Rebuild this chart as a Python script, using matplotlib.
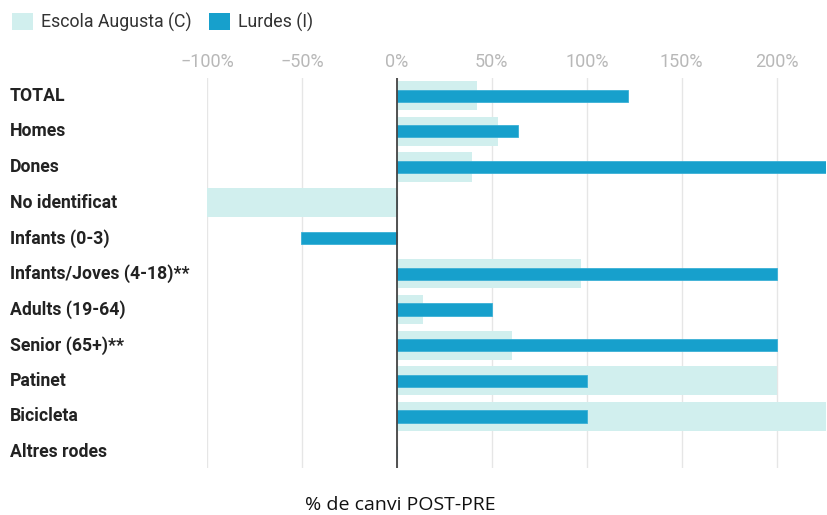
import numpy as np
import matplotlib.pyplot as plt
from matplotlib.patches import Patch
from matplotlib.transforms import blended_transform_factory

categories = ["TOTAL", "Homes", "Dones", "No identificat", "Infants (0-3)",
              "Infants/Joves (4-18)**", "Adults (19-64)", "Senior (65+)**",
              "Patinet", "Bicicleta", "Altres rodes"]
escola = [42, 53, 39.5, -100, 0, 97, 13.5, 60.5, 200, 226, 0]
lurdes = [121.5, 64, 226, 0, -50.5, 200, 50, 200, 100, 100, 0]
ticks = [-100, -50, 0, 50, 100, 150, 200]
tick_labels = ["\u2212100%", "\u221250%", "0%", "50%", "100%", "150%", "200%"]

c_escola = "#d1efee"
c_lurdes = "#17a0cc"

plt.rcParams["font.family"] = ["Roboto", "DejaVu Sans"]

fig = plt.figure(figsize=(8.28, 5.15), dpi=100)
ax = fig.add_axes([0.25, 0.091, 0.7476, 0.758])

y = np.arange(len(categories))
ax.barh(y, escola, height=0.82, color=c_escola, zorder=2)
ax.barh(y, lurdes, height=0.34, color=c_lurdes, edgecolor="#3bb0d6",
        linewidth=0.6, zorder=3)

ax.set_xlim(-100, 226)
ax.set_ylim(10.45, -0.5)
ax.axvline(0, color="#444444", lw=1.3, zorder=4)

ax.set_xticks(ticks)
ax.set_xticklabels(tick_labels)
ax.xaxis.tick_top()
ax.tick_params(axis="x", length=0, pad=5, labelsize=13, labelcolor="#b8b8b8")
ax.grid(axis="x", color="#e6e6e6", lw=1, zorder=0)
ax.set_yticks([])
for s in ax.spines.values():
    s.set_visible(False)

trans = blended_transform_factory(fig.transFigure, ax.transData)
for yi, name in zip(y, categories):
    ax.text(10 / 828, yi, name, transform=trans, ha="left", va="center",
            fontsize=12.7, fontweight="bold", color="#222222")

handles = [Patch(facecolor=c_escola, label="Escola Augusta (C)"),
           Patch(facecolor=c_lurdes, label="Lurdes (I)")]
fig.legend(handles=handles, loc="upper left", bbox_to_anchor=(0.0, 1.0),
           ncol=2, frameon=False, fontsize=12.8, handlelength=1.15,
           handleheight=1.15, handletextpad=0.45, columnspacing=1.0,
           labelcolor="#333333", borderaxespad=0.3)

fig.text(400 / 828, 1 - 505 / 515, "% de canvi POST-PRE", ha="center",
         va="center", fontsize=14, family="Open Sans", color="#111111")

fig.savefig("out.png", dpi=100)
